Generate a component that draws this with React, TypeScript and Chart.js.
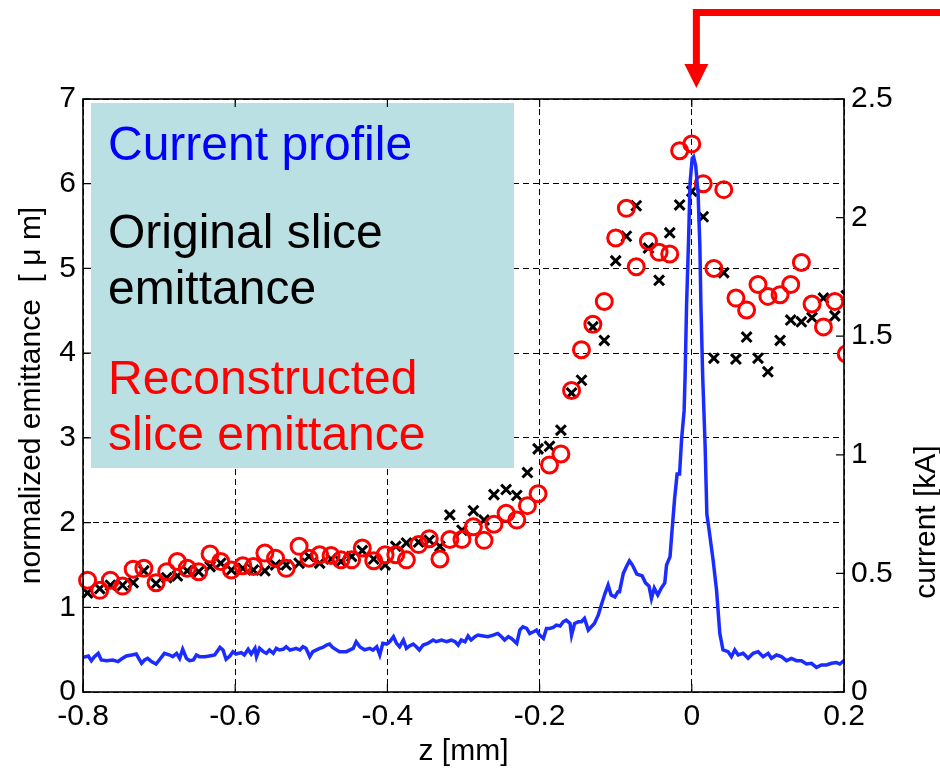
import { useEffect, useRef } from 'react';
import { Chart, registerables } from 'chart.js';

Chart.register(...registerables);

// Slice positions along the bunch [mm]
const sliceZ = [
  -0.794, -0.778, -0.764, -0.748, -0.734, -0.72, -0.704, -0.69, -0.676, -0.663,
  -0.648, -0.633, -0.619, -0.605, -0.59, -0.576, -0.561, -0.547, -0.533, -0.516,
  -0.503, -0.489, -0.474, -0.461, -0.447, -0.433, -0.418, -0.403, -0.389, -0.375,
  -0.359, -0.345, -0.331, -0.318, -0.302, -0.287, -0.273, -0.26, -0.244, -0.23,
  -0.216, -0.202, -0.187, -0.172, -0.158, -0.145, -0.13, -0.115, -0.1, -0.086,
  -0.073, -0.057, -0.043, -0.029, -0.016, 0.0, 0.015, 0.029, 0.042, 0.058,
  0.072, 0.087, 0.1, 0.116, 0.13, 0.144, 0.158, 0.173, 0.188, 0.203,
];

// Original slice emittance [um]
const originalEmittance = [
  1.17, 1.22, 1.26, 1.26, 1.29, 1.43, 1.28, 1.35, 1.37, 1.43,
  1.42, 1.48, 1.52, 1.44, 1.46, 1.44, 1.43, 1.5, 1.5, 1.52,
  1.6, 1.52, 1.57, 1.54, 1.6, 1.67, 1.57, 1.5, 1.72, 1.76,
  1.77, 1.79, 1.72, 2.09, 1.91, 2.14, 2.03, 2.33, 2.39, 2.32,
  2.59, 2.87, 2.9, 3.09, 3.53, 3.68, 4.31, 4.15, 5.09, 5.38,
  5.74, 5.24, 4.86, 5.42, 5.75, 5.91, 5.61, 3.94, 4.95, 3.93,
  4.19, 3.94, 3.78, 4.15, 4.39, 4.37, 4.42, 4.65, 4.44, 4.68,
];

// Reconstructed slice emittance [um]
const reconstructedEmittance = [
  1.32, 1.2, 1.32, 1.25, 1.45, 1.46, 1.29, 1.42, 1.54, 1.46,
  1.42, 1.63, 1.54, 1.44, 1.49, 1.48, 1.64, 1.58, 1.46, 1.72,
  1.58, 1.62, 1.61, 1.56, 1.56, 1.7, 1.55, 1.62, 1.62, 1.56,
  1.74, 1.81, 1.57, 1.8, 1.8, 1.95, 1.79, 1.98, 2.11, 2.03,
  2.2, 2.34, 2.68, 2.81, 3.56, 4.04, 4.34, 4.61, 5.36, 5.71,
  5.02, 5.32, 5.19, 5.17, 6.39, 6.47, 6.0, 5.0, 5.93, 4.65,
  4.51, 4.81, 4.67, 4.69, 4.81, 5.07, 4.58, 4.31, 4.61, 3.99,
];

// Current profile: position [mm]
const currentZ = [
  -0.8, -0.793, -0.789, -0.785, -0.78, -0.776, -0.769, -0.761, -0.754, -0.75,
  -0.743, -0.736, -0.73, -0.723, -0.719, -0.715, -0.71, -0.704, -0.699, -0.693,
  -0.686, -0.682, -0.677, -0.673, -0.669, -0.664, -0.66, -0.655, -0.651, -0.647,
  -0.64, -0.634, -0.627, -0.62, -0.616, -0.612, -0.607, -0.603, -0.599, -0.592,
  -0.588, -0.583, -0.579, -0.574, -0.572, -0.568, -0.563, -0.559, -0.555, -0.55,
  -0.546, -0.542, -0.537, -0.533, -0.528, -0.524, -0.52, -0.515, -0.511, -0.507,
  -0.502, -0.498, -0.489, -0.485, -0.48, -0.476, -0.472, -0.463, -0.454, -0.445,
  -0.441, -0.436, -0.43,
  -0.423, -0.419, -0.414, -0.41, -0.406, -0.401, -0.397, -0.392, -0.388, -0.384,
  -0.379, -0.375, -0.371, -0.366, -0.362, -0.358, -0.353, -0.347, -0.34, -0.336,
  -0.329, -0.322, -0.316, -0.311, -0.307, -0.303, -0.298, -0.294, -0.29, -0.285,
  -0.281, -0.274, -0.268, -0.261, -0.255, -0.25, -0.246, -0.241, -0.237, -0.23,
  -0.226, -0.222, -0.217, -0.213, -0.208, -0.204, -0.2, -0.195, -0.191, -0.187,
  -0.182, -0.178, -0.173, -0.169, -0.165, -0.16, -0.158, -0.154, -0.149, -0.145,
  -0.141, -0.136, -0.132, -0.128, -0.123, -0.119, -0.114, -0.11, -0.106, -0.101,
  -0.097, -0.095, -0.09, -0.086, -0.082, -0.078, -0.075,
  -0.0723, -0.0654, -0.0608, -0.0562, -0.053, -0.0493, -0.0447, -0.0401, -0.0355, -0.0332,
  -0.0286, -0.0263, -0.0226, -0.0193, -0.0161, -0.0134, -0.0101, -0.0088, -0.0069, -0.0041,
  -0.0023, 0.0005, 0.0023, 0.0051, 0.0083, 0.0106, 0.012, 0.0143, 0.0175, 0.0198,
  0.022, 0.028, 0.0325, 0.0368, 0.041, 0.0477, 0.0521, 0.0565, 0.0609, 0.0675,
  0.074, 0.0806, 0.0872, 0.0937, 0.1003, 0.1047, 0.1113, 0.1178, 0.1244, 0.131,
  0.1375, 0.1441, 0.1507, 0.1573, 0.1638, 0.1704, 0.177, 0.1835, 0.1901, 0.1945,
  0.1997, 0.2,
];

// Current profile: current [kA]
const currentKA = [
  0.146, 0.152, 0.132, 0.149, 0.163, 0.135, 0.132, 0.135, 0.128, 0.138,
  0.152, 0.156, 0.16, 0.121, 0.135, 0.142, 0.128, 0.118, 0.138, 0.163,
  0.156, 0.149, 0.163, 0.142, 0.18, 0.142, 0.132, 0.135, 0.156, 0.149,
  0.149, 0.152, 0.156, 0.188, 0.177, 0.138, 0.152, 0.17, 0.16, 0.166,
  0.156, 0.18, 0.16, 0.184, 0.149, 0.184, 0.17, 0.163, 0.177, 0.163,
  0.184, 0.177, 0.18, 0.191, 0.177, 0.18, 0.184, 0.177, 0.191, 0.184,
  0.149, 0.17, 0.184, 0.188, 0.198, 0.202, 0.188, 0.17, 0.17, 0.184,
  0.212, 0.19, 0.178,
  0.184, 0.177, 0.191, 0.156, 0.205, 0.202, 0.212, 0.233, 0.205, 0.191,
  0.219, 0.184, 0.194, 0.202, 0.191, 0.177, 0.198, 0.205, 0.219, 0.212,
  0.219, 0.212, 0.219, 0.212, 0.198, 0.219, 0.212, 0.236, 0.219, 0.233,
  0.24, 0.236, 0.233, 0.24, 0.247, 0.233, 0.219, 0.233, 0.226, 0.205,
  0.261, 0.275, 0.268, 0.247, 0.254, 0.261, 0.24, 0.226, 0.268, 0.268,
  0.272, 0.282, 0.278, 0.296, 0.303, 0.289, 0.24, 0.289, 0.296, 0.296,
  0.31, 0.261, 0.275, 0.289, 0.324, 0.366, 0.416, 0.451, 0.409, 0.401,
  0.423, 0.423, 0.5, 0.528, 0.553, 0.535, 0.515,
  0.497, 0.49, 0.46, 0.446, 0.394, 0.438, 0.409, 0.438, 0.46, 0.535,
  0.571, 0.667, 0.815, 0.919, 0.919, 1.066, 1.185, 1.332, 1.627, 1.924,
  2.146, 2.249, 2.256, 2.219, 2.101, 1.879, 1.628, 1.332, 1.037, 0.749,
  0.7, 0.556, 0.43, 0.247, 0.177, 0.17, 0.149, 0.177, 0.156, 0.163,
  0.142, 0.163, 0.17, 0.149, 0.163, 0.142, 0.156, 0.149, 0.132, 0.142,
  0.132, 0.132, 0.118, 0.121, 0.104, 0.114, 0.114, 0.121, 0.124, 0.118,
  0.132, 0.124,
];

// Axis ticks and labels
const zTicks = [-0.8, -0.6, -0.4, -0.2, 0, 0.2];
const zTickLabels = ['-0.8', '-0.6', '-0.4', '-0.2', '0', '0.2'];
const emitTicks = [0, 1, 2, 3, 4, 5, 6, 7];
const emitTickLabels = ['0', '1', '2', '3', '4', '5', '6', '7'];
const currentTicks = [0, 0.5, 1, 1.5, 2, 2.5];
const currentTickLabels = ['0', '0.5', '1', '1.5', '2', '2.5'];

const xTitle = 'z [mm]';
const yTitle = 'normalized emittance  [ μ m]';
const y2Title = 'current [kA]';

// Text block in the upper-left corner of the plot
const legendLines = [
  { text: 'Current profile', color: '#0000ff' },
  { text: 'Original slice', color: '#000000' },
  { text: 'emittance', color: '#000000' },
  { text: 'Reconstructed', color: '#ff0000' },
  { text: 'slice emittance', color: '#ff0000' },
];

// Position where the marker arrow points [mm]
const arrowZ = 0.006;

const FONT = '"Liberation Sans", Arial, Helvetica, sans-serif';

const decorPlugin = {
  id: 'decor',
  beforeDatasetsDraw(chart: any) {
    const { ctx, chartArea: a } = chart;
    ctx.save();
    ctx.fillStyle = '#bae0e3';
    ctx.fillRect(a.left + 8, a.top + 4, 423, 365);
    ctx.font = `48px ${FONT}`;
    ctx.textAlign = 'left';
    ctx.textBaseline = 'alphabetic';
    const baselines = [61, 149, 205, 295, 351];
    legendLines.forEach((l, i) => {
      ctx.fillStyle = l.color;
      ctx.fillText(l.text, a.left + 25, a.top + baselines[i]);
    });
    ctx.restore();
  },
  afterDraw(chart: any) {
    const { ctx, chartArea: a, scales } = chart;
    ctx.save();
    // inward tick marks
    ctx.strokeStyle = '#000';
    ctx.lineWidth = 1.2;
    ctx.beginPath();
    emitTicks.forEach((v) => {
      const y = scales.y.getPixelForValue(v);
      ctx.moveTo(a.left, y);
      ctx.lineTo(a.left + 8, y);
    });
    currentTicks.forEach((v) => {
      const y = scales.y2.getPixelForValue(v);
      ctx.moveTo(a.right, y);
      ctx.lineTo(a.right - 8, y);
    });
    zTicks.forEach((v) => {
      const x = scales.x.getPixelForValue(v);
      ctx.moveTo(x, a.bottom);
      ctx.lineTo(x, a.bottom - 8);
      ctx.moveTo(x, a.top);
      ctx.lineTo(x, a.top + 8);
    });
    ctx.stroke();
    // axes box
    ctx.lineWidth = 1.6;
    ctx.strokeRect(a.left, a.top, a.right - a.left, a.bottom - a.top);

    // axis titles
    ctx.fillStyle = '#000';
    ctx.font = `30px ${FONT}`;
    ctx.textAlign = 'center';
    ctx.textBaseline = 'middle';
    ctx.fillText(xTitle, (a.left + a.right) / 2, 752);
    ctx.textBaseline = 'alphabetic';
    ctx.save();
    ctx.translate(40, (a.top + a.bottom) / 2);
    ctx.rotate(-Math.PI / 2);
    ctx.fillText(yTitle, 0, 0);
    ctx.restore();
    ctx.save();
    ctx.translate(935, 522);
    ctx.rotate(-Math.PI / 2);
    ctx.fillText(y2Title, 0, 0);
    ctx.restore();

    // red marker arrow
    const ax = scales.x.getPixelForValue(arrowZ);
    ctx.strokeStyle = '#ff0000';
    ctx.fillStyle = '#ff0000';
    ctx.lineWidth = 7;
    ctx.lineCap = 'butt';
    ctx.lineJoin = 'miter';
    ctx.beginPath();
    ctx.moveTo(chart.width, 12.5);
    ctx.lineTo(ax, 12.5);
    ctx.lineTo(ax, a.top - 34);
    ctx.stroke();
    ctx.beginPath();
    ctx.moveTo(ax - 12, a.top - 35);
    ctx.lineTo(ax + 12, a.top - 35);
    ctx.lineTo(ax, a.top - 11);
    ctx.closePath();
    ctx.fill();
    ctx.restore();
  },
};

function setTicks(values: number[]) {
  return (scale: any) => {
    scale.ticks = values.map((v) => ({ value: v }));
  };
}

export default function App() {
  const ref = useRef<HTMLCanvasElement | null>(null);

  useEffect(() => {
    if (!ref.current) return;
    const tickFont = { family: FONT, size: 30 };
    const chart = new Chart(ref.current, {
      type: 'scatter',
      data: {
        datasets: [
          {
            label: 'Current profile',
            data: currentZ.map((z, i) => ({ x: z, y: currentKA[i] })),
            yAxisID: 'y2',
            showLine: true,
            borderColor: '#1a2cff',
            backgroundColor: '#1a2cff',
            borderWidth: 3.5,
            pointRadius: 0,
            tension: 0,
            order: 0,
            clip: 0,
          },
          {
            label: 'Reconstructed slice emittance',
            data: sliceZ.map((z, i) => ({ x: z, y: reconstructedEmittance[i] })),
            yAxisID: 'y',
            showLine: false,
            pointStyle: 'circle',
            pointRadius: 8,
            pointBorderWidth: 3,
            borderColor: '#ff0000',
            backgroundColor: 'rgba(0,0,0,0)',
            order: 1,
            clip: { left: 14, top: 14, right: 0, bottom: 14 },
          },
          {
            label: 'Original slice emittance',
            data: sliceZ.map((z, i) => ({ x: z, y: originalEmittance[i] })),
            yAxisID: 'y',
            showLine: false,
            pointStyle: 'crossRot',
            pointRadius: 7,
            pointBorderWidth: 3,
            borderColor: '#000000',
            backgroundColor: '#000000',
            order: 2,
            clip: { left: 14, top: 14, right: 0, bottom: 14 },
          },
        ],
      },
      options: {
        animation: false,
        responsive: false,
        devicePixelRatio: 1,
        layout: { padding: { top: 99, left: 0, right: 0, bottom: 0 } },
        plugins: { legend: { display: false }, tooltip: { enabled: false } },
        events: [],
        scales: {
          x: {
            type: 'linear',
            position: 'bottom',
            min: -0.8,
            max: 0.2,
            afterBuildTicks: setTicks(zTicks),
            afterFit: (s: any) => {
              s.height = 82;
            },
            ticks: {
              autoSkip: false,
              maxRotation: 0,
              padding: 7,
              color: '#000',
              font: tickFont,
              callback: (_v: any, i: number) => zTickLabels[i],
            },
            grid: { color: '#000', lineWidth: 1, drawTicks: false },
            border: { display: false, dash: [6, 4] },
          },
          y: {
            type: 'linear',
            position: 'left',
            min: 0,
            max: 7,
            afterBuildTicks: setTicks(emitTicks),
            afterFit: (s: any) => {
              s.width = 83;
            },
            ticks: {
              autoSkip: false,
              padding: 7,
              color: '#000',
              font: tickFont,
              callback: (_v: any, i: number) => emitTickLabels[i],
            },
            grid: { color: '#000', lineWidth: 1, drawTicks: false },
            border: { display: false, dash: [6, 4] },
          },
          y2: {
            type: 'linear',
            position: 'right',
            min: 0,
            max: 2.5,
            afterBuildTicks: setTicks(currentTicks),
            afterFit: (s: any) => {
              s.width = 96;
            },
            ticks: {
              autoSkip: false,
              padding: 7,
              color: '#000',
              font: tickFont,
              callback: (_v: any, i: number) => currentTickLabels[i],
            },
            grid: { display: false, drawOnChartArea: false, drawTicks: false },
            border: { display: false },
          },
        },
      },
      plugins: [decorPlugin],
    } as any);
    return () => chart.destroy();
  }, []);

  return (
    <div style={{ position: 'fixed', left: 0, top: 0, width: 940, height: 774, background: '#fff' }}>
      <canvas ref={ref} width={940} height={774} style={{ width: 940, height: 774, display: 'block' }} />
    </div>
  );
}
